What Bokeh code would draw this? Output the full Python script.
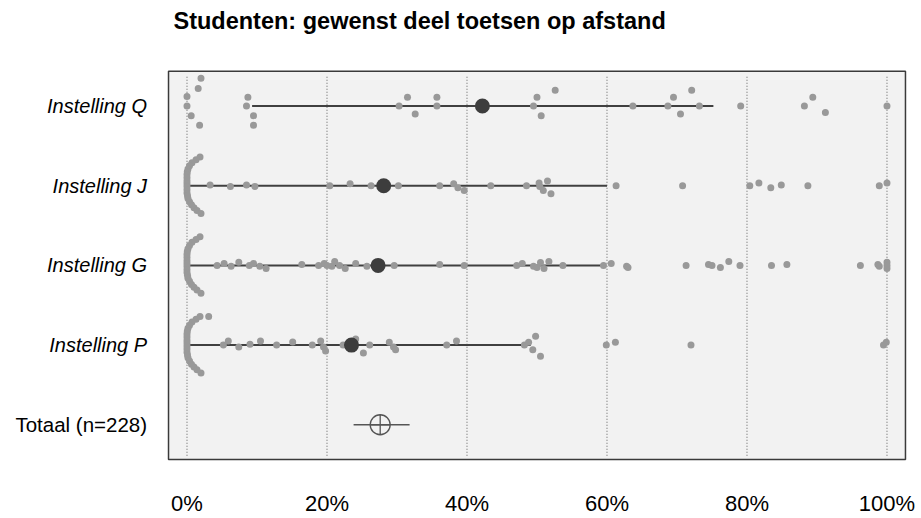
from bokeh.plotting import figure
from bokeh.models import Range1d, FixedTicker, PrintfTickFormatter
from bokeh.core.properties import value
from bokeh.embed import file_html
from bokeh.resources import INLINE

# --- data -----------------------------------------------------------------
titel = "Studenten: gewenst deel toetsen op afstand"
instellingen = ["Instelling Q", "Instelling J", "Instelling G", "Instelling P"]
rij = [5, 4, 3, 2]
totaal_label = "Totaal (n=228)"
totaal_rij = 1

# answers (% of tests) per institution, with a small vertical spread (row units)
q_waarden = [0.0, 0.0, 0.6, 1.6, 2.0, 1.8, 8.7, 8.5, 9.5, 9.5, 30.3, 31.5, 32.6, 35.7, 35.7,
             49.5, 50.0, 50.6, 52.6, 63.7, 68.7, 69.5, 70.5, 72.1, 73.2, 79.1, 88.2, 89.4, 91.2, 100.0]
q_spreiding = [0.12, 0.0, -0.12, 0.22, 0.35, -0.24, 0.11, 0.0, -0.12, -0.24, 0.0, 0.11, -0.1, 0.11, 0.0,
               0.0, 0.11, -0.12, 0.2, 0.0, 0.0, 0.11, -0.1, 0.2, 0.0, 0.0, 0.0, 0.11, -0.08, 0.0]

j_waarden = [3.3, 6.2, 8.5, 9.7, 20.4, 23.3, 26.3, 30.2, 36.1, 38.1, 38.7, 39.6, 43.4, 48.5, 50.3,
             50.4, 50.9, 51.5, 52.0, 61.3, 70.8, 80.4, 81.7, 83.4, 84.9, 88.7, 98.9, 100.0]
j_spreiding = [0.01, -0.01, 0.01, -0.01, 0.0, 0.025, 0.0, 0.0, 0.0, 0.025, -0.025, -0.06, 0.0, 0.0, 0.035,
               -0.01, -0.06, 0.06, -0.1, 0.0, 0.0, 0.0, 0.035, -0.025, 0.01, 0.0, 0.0, 0.035]

g_waarden = [4.3, 5.3, 6.3, 7.4, 8.9, 9.5, 10.4, 11.3, 16.4, 18.8, 19.6, 20.0, 20.7, 21.1, 21.8, 22.6,
             24.1, 25.7, 29.6, 36.1, 39.6, 47.1, 47.9, 49.5, 50.0, 50.5, 51.0, 51.7, 53.7, 59.5, 60.6,
             62.8, 63.0, 71.3, 74.5, 75.0, 76.2, 77.4, 79.0, 83.5, 85.7, 96.2, 98.7, 98.9, 100.0, 100.0, 100.0]
g_spreiding = [0.0, 0.025, -0.01, 0.04, 0.0, 0.025, -0.01, -0.04, 0.01, 0.0, 0.025, 0.0, -0.01, 0.05, 0.0, -0.04,
               0.025, -0.01, 0.0, 0.01, 0.0, 0.0, 0.025, -0.01, -0.025, 0.035, -0.04, 0.05, 0.0, 0.0, 0.025,
               -0.01, -0.025, 0.0, 0.01, 0.0, -0.025, 0.05, 0.0, 0.0, 0.01, 0.0, 0.01, -0.01, 0.04, -0.04, 0.0]

p_waarden = [3.1, 5.2, 5.9, 7.4, 9.0, 10.5, 12.8, 15.1, 17.9, 19.1, 19.5, 19.8, 22.3, 24.1, 25.2, 26.1,
             28.9, 29.5, 29.8, 37.1, 38.5, 48.2, 48.8, 49.4, 49.8, 50.5, 59.9, 61.2, 72.0, 99.5, 99.9]
p_spreiding = [0.36, 0.0, 0.05, -0.025, 0.01, 0.05, 0.0, 0.04, 0.0, 0.05, -0.025, -0.075, 0.0, 0.075, -0.1, 0.0,
               0.035, -0.025, -0.06, 0.0, 0.05, 0.0, 0.035, -0.06, 0.11, -0.14, 0.0, 0.035, 0.0, 0.0, 0.035]

# the many 0% answers, laid out as a curved swarm at the left edge of each row
nul_waarden = [1.86, 1.29, 0.71, 0.36, 0.14, 0.04, 0.0, 0.0, 0.0, 0.0, 0.0, 0.0, 0.0, 0.07,
               0.14, 0.36, 0.64, 1.0, 1.43, 2.0]
nul_spreiding = [0.36, 0.325, 0.29, 0.25, 0.21, 0.175, 0.14, 0.1, 0.06, 0.025, -0.01, -0.05, -0.09, -0.125,
                 -0.16, -0.2, -0.24, -0.275, -0.31, -0.35]

# mean per institution and the range drawn as a line
gemiddelde = [42.2, 28.1, 27.3, 23.5]
bereik_van = [9.3, 0.0, 0.0, 0.0]
bereik_tot = [75.2, 60.0, 59.5, 49.1]

# overall mean with its interval
totaal_gemiddelde = 27.6
totaal_van = 23.8
totaal_tot = 31.8

x_ticks = [0, 20, 40, 60, 80, 100]

# --- layout constants (data units) ------------------------------------------
PANEL_L, PANEL_R = -2.64, 102.64      # grey panel extent on the % axis
PANEL_B, PANEL_T = 0.5625, 5.4375     # grey panel extent in row units
GUIDE_B, GUIDE_T = 0.6125, 5.3875     # dotted guides sit just inside the panel
LABEL_X = -5.7                        # right edge of the row labels
TITLE_X, TITLE_Y = -1.93, 6.069

FONT = "Liberation Sans"
p = figure(width=921, height=518, output_backend="svg", toolbar_location=None,
           x_range=Range1d(-26.643, 104.93), y_range=Range1d(0.225, 6.325),
           y_axis_location=None, min_border=0)
p.background_fill_color = "white"
p.border_fill_color = "white"
p.outline_line_color = None
p.xgrid.visible = False
p.ygrid.visible = False

xa = p.xaxis[0]
xa.ticker = FixedTicker(ticks=x_ticks)
xa.formatter = PrintfTickFormatter(format="%d%%")
xa.axis_line_color = None
xa.major_tick_line_color = None
xa.minor_tick_line_color = None
xa.major_tick_in = 0
xa.major_tick_out = 0
xa.major_label_standoff = 4
xa.major_label_text_font = FONT
xa.major_label_text_font_size = "22px"
xa.major_label_text_color = "black"

# grey plotting panel with a dark border
p.quad(left=[PANEL_L], right=[PANEL_R], bottom=[PANEL_B], top=[PANEL_T],
       fill_color="#f2f2f2", line_color="#3a3a3a", line_width=1.5)

# dotted vertical guides
p.segment(x0=x_ticks, x1=x_ticks, y0=[GUIDE_B] * len(x_ticks), y1=[GUIDE_T] * len(x_ticks),
          line_color="#6e6e6e", line_width=1.1, line_dash="1 2")

# range lines per institution
p.segment(x0=bereik_van, x1=bereik_tot, y0=rij, y1=rij, line_color="#404040", line_width=2)

# individual answers
alle = [(q_waarden, q_spreiding, False), (j_waarden, j_spreiding, True),
        (g_waarden, g_spreiding, True), (p_waarden, p_spreiding, True)]
xs, ys = [], []
for (w, s, met_nul), r in zip(alle, rij):
    if met_nul:
        xs += nul_waarden
        ys += [r + d for d in nul_spreiding]
    xs += w
    ys += [r + d for d in s]
p.scatter(xs, ys, size=7, fill_color="#999999", line_color=None)

# means
p.scatter(gemiddelde, rij, size=15, fill_color="#3d3d3d", line_color=None)

# total
p.segment(x0=[totaal_van], x1=[totaal_tot], y0=[totaal_rij], y1=[totaal_rij],
          line_color="#555555", line_width=1.3)
p.scatter([totaal_gemiddelde], [totaal_rij], marker="circle_cross", size=20,
          fill_color=None, line_color="#555555", line_width=1.3)

# row labels
p.text(x=[LABEL_X] * len(instellingen), y=rij, text=instellingen,
       text_align="right", text_baseline="middle", text_font=value(FONT),
       text_font_size="20px", text_font_style="italic", text_color="black")
p.text(x=[LABEL_X], y=[totaal_rij], text=[totaal_label],
       text_align="right", text_baseline="middle", text_font=value(FONT),
       text_font_size="20.5px", text_color="black")

# title
p.text(x=[TITLE_X], y=[TITLE_Y], text=[titel], text_align="left", text_baseline="middle",
       text_font=value(FONT), text_font_size="23.5px", text_font_style="bold", text_color="black")

open("out.html", "w").write(file_html(p, INLINE))
